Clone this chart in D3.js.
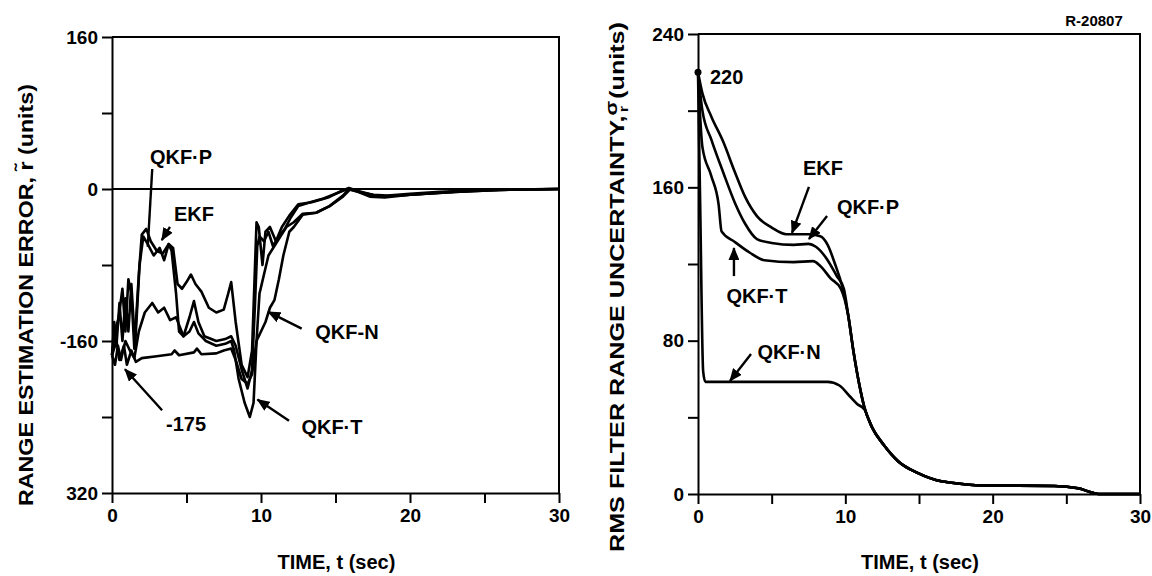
<!DOCTYPE html>
<html>
<head>
<meta charset="utf-8">
<title>Range estimation error and RMS uncertainty</title>
<script src="https://cdn.jsdelivr.net/npm/d3@7"></script>
<style>
  body { margin: 0; background: #fff; }
  #chart text { font-family: "Liberation Sans", Arial, sans-serif; font-weight: bold; fill: #000; }
  .curve { fill: none; stroke: #000; stroke-width: 2.6px; stroke-linejoin: round; }
  .frame { fill: none; stroke: #000; stroke-width: 2px; }
  .note-line { fill: none; stroke: #000; stroke-width: 2.4px; }
</style>
</head>
<body>
<svg id="chart" width="1152" height="576"></svg>
<script>
// ---- data: left panel, range estimation error (units) vs time (sec) ----
const errQKFP = [[0,-175],[0.2,-150],[0.45,-135],[0.7,-105],[0.9,-150],[1.1,-95],[1.3,-110],[1.5,-168],[1.8,-90],[2.0,-48],[2.3,-42],[2.6,-55],[3.0,-65],[3.4,-68],[3.8,-58],[4.1,-62],[4.4,-100],[4.7,-105],[5.0,-98],[5.3,-90],[5.6,-100],[6.0,-108],[6.5,-125],[7.0,-130],[7.5,-127],[7.8,-110],[8.0,-98],[8.3,-140],[8.7,-185],[9.1,-198],[9.4,-170],[9.6,-80],[9.7,-35],[9.85,-40],[10.1,-80],[10.3,-45],[10.6,-40],[11.0,-55],[11.4,-40],[11.9,-28],[12.5,-16],[13.4,-14],[14.5,-9],[15.4,-2],[15.9,1],[16.5,-2],[17.5,-6],[18.5,-7],[20,-5],[22,-3],[25,-1],[30,0]];
const errEKF = [[0,-175],[0.15,-140],[0.3,-165],[0.5,-120],[0.7,-160],[0.9,-115],[1.1,-150],[1.3,-100],[1.55,-165],[1.85,-80],[2.1,-50],[2.4,-58],[2.8,-70],[3.2,-62],[3.5,-75],[3.8,-58],[4.0,-65],[4.3,-110],[4.5,-150],[4.8,-155],[5.2,-135],[5.5,-118],[5.8,-140],[6.2,-155],[7.0,-160],[7.6,-158],[8.0,-155],[8.3,-165],[8.7,-190],[9.1,-210],[9.4,-190],[9.6,-120],[9.75,-60],[9.9,-50],[10.2,-55],[10.5,-45],[10.8,-60],[11.2,-50],[11.6,-42],[12.0,-30],[12.5,-18],[13.3,-14],[14.2,-10],[15.0,-5],[15.8,0],[16.5,-3],[17.3,-8],[18.3,-9],[20,-6],[22.5,-3.5],[25,-1],[30,0]];
const errQKFT = [[0,-175],[0.2,-185],[0.4,-165],[0.6,-180],[0.9,-160],[1.2,-170],[1.5,-178],[1.8,-150],[2.2,-130],[2.7,-120],[3.1,-130],[3.5,-125],[3.9,-138],[4.3,-135],[4.5,-143],[4.8,-155],[5.2,-150],[5.5,-140],[5.8,-152],[6.3,-160],[7.0,-165],[7.6,-163],[8.0,-160],[8.2,-170],[8.5,-200],[8.9,-225],[9.25,-240],[9.5,-225],[9.7,-160],[9.9,-110],[10.2,-90],[10.5,-70],[10.9,-60],[11.3,-50],[11.7,-40],[12.2,-35],[12.8,-26],[13.7,-25],[14.6,-18],[15.5,-7],[15.9,0],[16.8,-4],[18,-8],[20,-6],[23,-3],[26,-1],[30,0]];
const errQKFN = [[0,-175],[0.3,-160],[0.5,-180],[0.8,-165],[1.0,-185],[1.3,-170],[1.6,-182],[2.0,-178],[3.0,-176],[4.0,-174],[4.2,-170],[4.5,-175],[5.5,-172],[5.7,-168],[6.0,-174],[7.0,-173],[7.5,-170],[8.0,-168],[8.3,-180],[8.7,-200],[9.1,-205],[9.4,-195],[9.7,-160],[10.0,-150],[10.3,-140],[10.6,-125],[10.9,-117],[11.2,-95],[11.5,-70],[11.9,-45],[12.2,-40],[12.8,-27],[13.7,-25],[14.6,-18],[15.5,-8],[16,0],[16.8,-4],[18,-8],[20,-6],[23,-3],[26,-1],[30,0]];

// ---- data: right panel, RMS filter range uncertainty (units) vs time (sec) ----
const uncEKF  = [[0,220],[0.3,209],[0.9,197],[1.7,184],[2.5,168],[3.2,155],[4,145],[5,139],[6,135.5],[7.5,135.5],[8.3,134.5],[8.8,130],[9.3,120],[9.8,108]];
const uncQKFP = [[0,220],[0.3,200],[0.9,185],[1.7,168],[2.5,152],[3.2,141],[4,133],[5,131],[6.5,130],[7.5,130.5],[8,129],[8.8,122],[9.4,114],[9.9,107]];
const uncQKFT = [[0,220],[0.3,181],[0.9,166],[1.4,151],[1.6,137],[2.5,131.5],[3.5,126],[4.5,122],[6.5,121],[7.8,121.5],[8.3,119],[9,112.5],[9.7,107]];
const uncQKFN = [[0,220],[0.15,150],[0.35,64],[0.5,58.5],[4,58.5],[8.8,58.5],[9.6,56.6],[10.3,51],[10.8,47],[11.3,44],[11.8,35]];
const uncTail = [[10.2,93],[10.56,74],[10.95,57],[11.3,45],[11.8,35],[12.6,25.7],[13.6,17],[14.9,11],[16.6,6.5],[17.1,6],[19.2,4.5],[24.2,4.2],[25.8,3],[26.8,0.6],[27.2,0],[30,0]];

// ---- ticks ----
const timeTicks = [0,5,10,15,20,25,30];
const timeTickLabels = ["0","","10","","20","","30"];
const errTicks = [160,80,0,-80,-160,-240,-320];
const errTickLabels = ["160","","0","","-160","","320"];
const uncTicks = [240,200,160,120,80,40,0];
const uncTickLabels = ["240","","160","","80","","0"];

// ---- annotations (data units) ----
const errNotes = [
  {label:"QKF·P", t:4.63, v:33.7, from:[2.70,21], to:[2.40,-60.8], head:false},
  {label:"EKF", t:5.5, v:-26.4, from:[3.89,-39.8], to:[3.34,-53.8], head:true},
  {label:"QKF-N", t:15.77, v:-150.8, from:[12.73,-146.9], to:[10.49,-129.4], head:true},
  {label:"QKF·T", t:14.76, v:-250, from:[11.88,-244], to:[9.76,-221.7], head:true},
  {label:"-175", t:4.97, v:-247.6, from:[3.36,-232.9], to:[0.87,-189.7], head:true}
];
const uncNotes = [
  {label:"EKF", t:8.48, v:170, from:[7.53,160.2], to:[6.38,136.2], head:true},
  {label:"QKF·P", t:11.54, v:149.7, from:[8.76,145], to:[7.53,133], head:true},
  {label:"QKF·T", t:4.0, v:103.3, from:[2.44,113.7], to:[2.44,128.3], head:true},
  {label:"QKF·N", t:6.18, v:74, from:[3.6,73], to:[2.17,59], head:true}
];

const svg = d3.select("#chart");

svg.append("defs").append("marker")
  .attr("id", "arrow")
  .attr("markerUnits", "userSpaceOnUse")
  .attr("markerWidth", 13).attr("markerHeight", 11)
  .attr("refX", 12).attr("refY", 5.5)
  .attr("orient", "auto")
  .append("path").attr("d", "M0,0L13,5.5L0,11Z").attr("fill", "#000");

function drawPanel(p) {
  var x = d3.scaleLinear().domain([0, 30]).range(p.xRange);
  var y = d3.scaleLinear().domain(p.yDomain).range(p.yRange);
  var g = svg.append("g");

  // axes
  var yAxis = d3.axisLeft(y).tickValues(p.yTicks).tickSize(10).tickSizeOuter(0).tickPadding(4)
    .tickFormat(function(d, i) { return p.yLabels[i]; });
  var xAxis = d3.axisBottom(x).tickValues(timeTicks).tickSize(10).tickSizeOuter(0).tickPadding(6)
    .tickFormat(function(d, i) { return timeTickLabels[i]; });

  [g.append("g").attr("transform", "translate(" + x(0) + ",0)").call(yAxis),
   g.append("g").attr("transform", "translate(0," + y(p.yDomain[0]) + ")").call(xAxis)]
    .forEach(function(a) {
      a.attr("font-size", null).attr("font-family", null);
      a.selectAll("path, line").attr("stroke", "#000").attr("stroke-width", 2);
      a.selectAll("text").style("font-size", "19px");
    });

  // top and right border
  g.append("path").attr("class", "frame")
    .attr("d", "M" + x(0) + "," + y(p.yDomain[1]) + "H" + x(30) + "V" + y(p.yDomain[0]));

  if (p.zeroLine) {
    g.append("line").attr("x1", x(0)).attr("x2", x(30)).attr("y1", y(0)).attr("y2", y(0))
      .attr("stroke", "#000").attr("stroke-width", 2);
  }

  var line = d3.line().x(function(d) { return x(d[0]); }).y(function(d) { return y(d[1]); })
    .curve(p.curve);
  p.series.forEach(function(s) {
    g.append("path").attr("class", "curve").attr("d", line(s));
  });

  p.notes.forEach(function(n) {
    g.append("line").attr("class", "note-line")
      .attr("x1", x(n.from[0])).attr("y1", y(n.from[1]))
      .attr("x2", x(n.to[0])).attr("y2", y(n.to[1]))
      .attr("marker-end", n.head ? "url(#arrow)" : null);
    g.append("text").attr("x", x(n.t)).attr("y", y(n.v))
      .attr("text-anchor", "middle").attr("dominant-baseline", "central")
      .style("font-size", "20px").text(n.label);
  });

  // x title
  g.append("text").attr("x", (x(0) + x(30)) / 2 + 1).attr("y", 569)
    .attr("text-anchor", "middle").style("font-size", "20px").text("TIME, t (sec)");

  return {x: x, y: y, g: g};
}

var left = drawPanel({
  xRange: [112, 559], yDomain: [-320, 160], yRange: [493, 37],
  yTicks: errTicks, yLabels: errTickLabels, zeroLine: true,
  series: [errQKFN, errQKFT, errEKF, errQKFP], curve: d3.curveLinear, notes: errNotes
});

var right = drawPanel({
  xRange: [698, 1140], yDomain: [0, 240], yRange: [494, 34],
  yTicks: uncTicks, yLabels: uncTickLabels, zeroLine: false,
  series: [uncEKF.concat(uncTail), uncQKFP.concat(uncTail), uncQKFT.concat(uncTail), uncQKFN.concat(uncTail.slice(5))],
  curve: d3.curveMonotoneX, notes: uncNotes
});

// initial value marker and label on the right panel
right.g.append("circle").attr("cx", right.x(0)).attr("cy", right.y(220)).attr("r", 3.5).attr("fill", "#000");
right.g.append("text").attr("x", right.x(0.81)).attr("y", right.y(217.5))
  .attr("dominant-baseline", "central").style("font-size", "20px").text("220");

// y titles
var lt = svg.append("text").attr("transform", "translate(33,295) rotate(-90)")
  .attr("text-anchor", "middle").style("font-size", "20px")
  .attr("textLength", 422).attr("lengthAdjust", "spacingAndGlyphs");
lt.append("tspan").text("RANGE ESTIMATION ERROR, ");
lt.append("tspan").text("r\u0303");
lt.append("tspan").text(" (units)");

var rt = svg.append("text").attr("transform", "translate(624,287) rotate(-90)")
  .attr("text-anchor", "middle").style("font-size", "20px")
  .attr("textLength", 530).attr("lengthAdjust", "spacingAndGlyphs");
rt.append("tspan").text("RMS FILTER RANGE UNCERTAINTY,");
rt.append("tspan").attr("dy", -7).style("font-size", "17px").text("\u03c3");
rt.append("tspan").attr("dy", 11).attr("dx", -9).style("font-size", "13px").text("r");
rt.append("tspan").attr("dy", -4).text(" (units)");

// figure number
svg.append("text").attr("x", 1094).attr("y", 26).attr("text-anchor", "middle")
  .style("font-size", "15px").text("R-20807");
</script>
</body>
</html>
